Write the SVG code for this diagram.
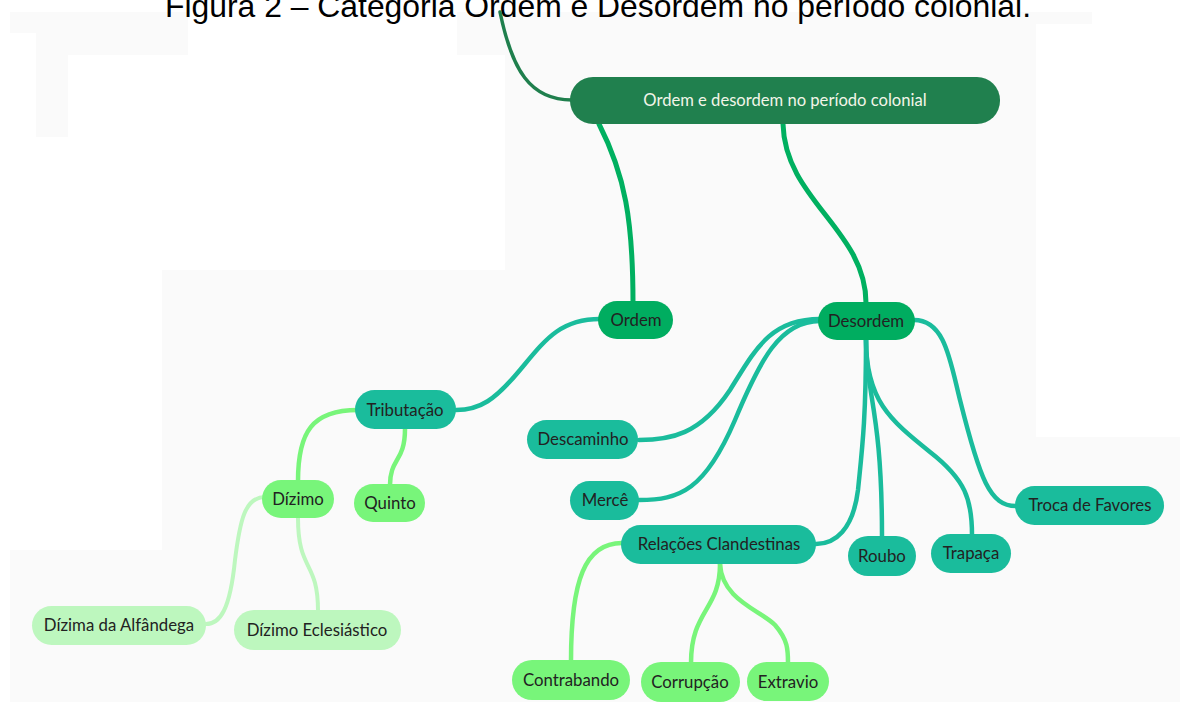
<svg xmlns="http://www.w3.org/2000/svg" width="1180" height="702" viewBox="0 0 1180 702">
<style>
.bg{fill:#fafafa}
.lbl{font-family:Lato,"Open Sans","Liberation Sans",sans-serif;font-size:16.8px;fill:#222;text-anchor:middle;dominant-baseline:central}
.root-lbl{font-family:Lato,"Open Sans","Liberation Sans",sans-serif;font-size:16.6px;fill:#f2f5e8;text-anchor:middle;dominant-baseline:central}
.c{fill:none;stroke-linecap:round}
.c-root{stroke:#1f7f4d;stroke-width:3.5}
.c-l1{stroke:#00b060;stroke-width:5}
.c-l2{stroke:#1abc9c;stroke-width:4.5}
.c-l3{stroke:#78f57a;stroke-width:4.5}
.c-l4{stroke:#bdf7be;stroke-width:4}
.n-root{fill:#20804e}
.n-l1{fill:#00ad60}
.n-l2{fill:#1abc9c}
.n-l3{fill:#78f57a}
.n-l4{fill:#bdf7be}
</style>
<rect x="0" y="0" width="1180" height="702" fill="#ffffff"/>
<g id="background">
<polygon class="bg" points="10,12 188,12 188,55 68,55 68,137 36,137 36,33 10,33"/>
<polygon class="bg" points="457,12 1092,12 1092,24 1036,24 1036,437 1180,437 1180,702 10,702 10,550 162,550 162,270 505,270 505,55 457,55"/>
</g>
<text id="title" x="598" y="17" font-family="'Liberation Sans',Arial,sans-serif" font-size="32" fill="#000" text-anchor="middle" textLength="866" lengthAdjust="spacingAndGlyphs">Figura 2 – Categoria Ordem e Desordem no período colonial.</text>
<g id="connectors">
<path class="c c-root" d="M500,12 C512,70 530,100 572,100"/>
<path class="c c-l1" d="M599,124 C625,175 633,220 633,303"/>
<path class="c c-l1" d="M783,124 C785,200 866,230 866,303"/>
<path class="c c-l2" d="M600,319 C560,319 545,340 520,370 C495,400 480,410 456,410"/>
<path class="c c-l2" d="M820,319 C770,319 755,350 730,390 C700,435 670,440 639,440"/>
<path class="c c-l2" d="M820,321 C780,321 760,360 735,420 C705,490 680,500 639,500"/>
<path class="c c-l2" d="M866,340 C866,420 862,450 858,490 C853,530 835,544 816,544"/>
<path class="c c-l2" d="M866,340 C866,395 882,410 882,537"/>
<path class="c c-l2" d="M866,340 C866,400 890,420 930,452 C966,480 972,500 972,535"/>
<path class="c c-l2" d="M914,320 C945,320 950,360 960,400 C980,480 990,506 1016,506"/>
<path class="c c-l3" d="M405,429 C405,462 390,458 390,485"/>
<path class="c c-l3" d="M358,410 C312,410 298,432 298,481"/>
<path class="c c-l3" d="M622,543 C585,543 571,580 571,661"/>
<path class="c c-l3" d="M720,564 C720,610 691,610 691,663"/>
<path class="c c-l3" d="M720,564 C722,600 760,610 775,625 C788,640 788,650 788,663"/>
<path class="c c-l4" d="M265,497 C245,497 240,520 235,560 C230,610 220,624 206,624"/>
<path class="c c-l4" d="M298,518 C298,572 318,560 318,611"/>
</g>
<g id="node-root"><rect class="n-root" x="570" y="77" width="430" height="47" rx="23"/><text class="root-lbl" x="785" y="99.5">Ordem e desordem no período colonial</text></g>
<g id="node-ordem"><rect class="n-l1" x="598" y="301" width="75" height="38" rx="19"/><text class="lbl" x="636" y="319.5">Ordem</text></g>
<g id="node-desordem"><rect class="n-l1" x="818" y="302" width="97" height="38" rx="19"/><text class="lbl" x="866" y="320.5">Desordem</text></g>
<g id="node-tributacao"><rect class="n-l2" x="355" y="390" width="101" height="39" rx="19.5"/><text class="lbl" x="405" y="409.5">Tributação</text></g>
<g id="node-quinto"><rect class="n-l3" x="354" y="484" width="71" height="38" rx="19"/><text class="lbl" x="390" y="502.5">Quinto</text></g>
<g id="node-dizimo"><rect class="n-l3" x="262" y="480" width="72" height="38" rx="19"/><text class="lbl" x="298" y="498.5">Dízimo</text></g>
<g id="node-dizima-alfandega"><rect class="n-l4" x="32" y="606" width="174" height="39" rx="19.5"/><text class="lbl" x="119" y="624.5">Dízima da Alfândega</text></g>
<g id="node-dizimo-eclesiastico"><rect class="n-l4" x="234" y="610" width="167" height="40" rx="20"/><text class="lbl" x="317" y="629.5">Dízimo Eclesiástico</text></g>
<g id="node-descaminho"><rect class="n-l2" x="527" y="420" width="111" height="39" rx="19.5"/><text class="lbl" x="583" y="438.5">Descaminho</text></g>
<g id="node-merce"><rect class="n-l2" x="570" y="481" width="69" height="39" rx="19.5"/><text class="lbl" x="605" y="499.5">Mercê</text></g>
<g id="node-relacoes"><rect class="n-l2" x="621" y="525" width="195" height="39" rx="19.5"/><text class="lbl" x="719" y="543.5">Relações Clandestinas</text></g>
<g id="node-roubo"><rect class="n-l2" x="848" y="536" width="68" height="40" rx="20"/><text class="lbl" x="882" y="555.5">Roubo</text></g>
<g id="node-trapaca"><rect class="n-l2" x="931" y="534" width="80" height="39" rx="19.5"/><text class="lbl" x="971" y="552.5">Trapaça</text></g>
<g id="node-troca"><rect class="n-l2" x="1015" y="486" width="149" height="39" rx="19.5"/><text class="lbl" x="1090" y="504.5">Troca de Favores</text></g>
<g id="node-contrabando"><rect class="n-l3" x="512" y="660" width="118" height="40" rx="20"/><text class="lbl" x="571" y="679.5">Contrabando</text></g>
<g id="node-corrupcao"><rect class="n-l3" x="641" y="662" width="99" height="40" rx="20"/><text class="lbl" x="690" y="681.5">Corrupção</text></g>
<g id="node-extravio"><rect class="n-l3" x="747" y="662" width="82" height="39" rx="19.5"/><text class="lbl" x="788" y="681.5">Extravio</text></g>
</svg>
